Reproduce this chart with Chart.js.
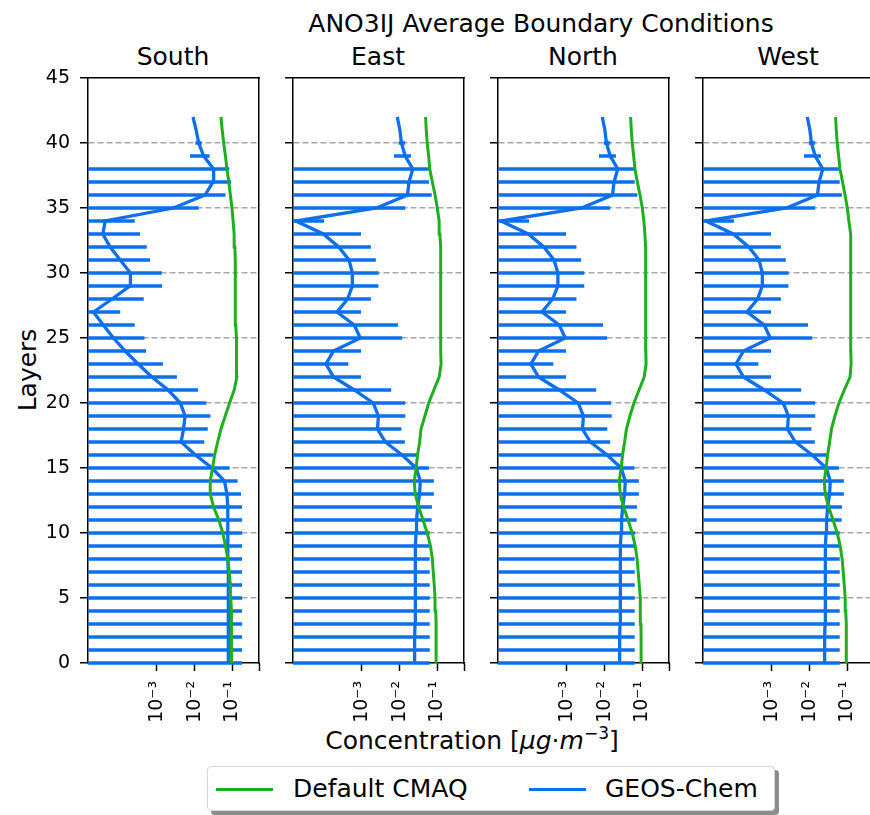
<!DOCTYPE html>
<html>
<head>
<meta charset="utf-8">
<script src="https://cdn.jsdelivr.net/npm/chart.js@4.4.1/dist/chart.umd.min.js"></script>
<style>
  body { margin: 0; background: #fff; font-family: 'DejaVu Sans', sans-serif; }
  #fig { position: relative; width: 870px; height: 815px; overflow: hidden; background: #fff; }
  .panel { position: absolute; top: 64px; }
  .txt { position: absolute; white-space: nowrap; color: #000; font-size: 25px; transform: translate(-50%, -50%); }
  .legend { position: absolute; left: 207px; top: 766px; width: 568px; height: 45px; box-sizing: border-box;
            border: 1px solid #d6d6d6; border-radius: 4px; background: #fff; box-shadow: 4px 4px 0 #8c8c8c; }
  .swatch { position: absolute; top: 21px; height: 3px; width: 57px; }
  .ltxt { position: absolute; top: 7px; font-size: 25px; color: #000; white-space: nowrap; }
  sup { font-size: 17px; vertical-align: 10px; line-height: 0; }
</style>
</head>
<body>
<div id="fig">
  <div class="txt" style="left:541px; top:23px;">ANO3IJ Average Boundary Conditions</div>
  <div class="txt" style="left:173px; top:56px;">South</div>
  <div class="txt" style="left:378px; top:56px;">East</div>
  <div class="txt" style="left:583px; top:56px;">North</div>
  <div class="txt" style="left:788px; top:56px;">West</div>
  <div class="txt" style="left:27px; top:370px; transform: translate(-50%, -50%) rotate(-90deg);">Layers</div>
  <div class="txt" style="left:472px; top:740px;">Concentration [<i>μg</i>·<i>m</i><sup>−3</sup>]</div>
  <div class="legend">
    <div class="swatch" style="left:8px; background:#1fae1f;"></div>
    <div class="ltxt" style="left:85px;">Default CMAQ</div>
    <div class="swatch" style="left:321px; background:#0c6fec;"></div>
    <div class="ltxt" style="left:397px;">GEOS-Chem</div>
  </div>
</div>
<script>
// model layers (y axis)
const layers = [0, 1, 2, 3, 4, 5, 6, 7, 8, 9, 10, 11, 12, 13, 14, 15, 16, 17, 18, 19, 20,
  21, 22, 23, 24, 25, 26, 27, 28, 29, 30, 31, 32, 33, 34, 35, 36, 37, 38, 39, 40, 41, 42];

const xTickValues = [1e-3, 1e-2, 1e-1, 0.51];
const xTickLabels = ['10⁻³', '10⁻²', '10⁻¹', ''];
const yTickStep = 5;
const X_MIN = 1.5e-5;
const X_MAX = 0.51;

// South
const southCmaq = [0.095, 0.095, 0.095, 0.095, 0.095, 0.091, 0.089, 0.083, 0.076, 0.066, 0.056,
  0.044, 0.032, 0.026, 0.026, 0.030, 0.034, 0.041, 0.050, 0.065, 0.085, 0.112, 0.132, 0.132,
  0.129, 0.126, 0.123, 0.120, 0.120, 0.120, 0.120, 0.120, 0.117, 0.112, 0.105, 0.098, 0.089,
  0.081, 0.072, 0.066, 0.059, 0.054, 0.050];
const southGeos = [0.079, 0.079, 0.079, 0.079, 0.078, 0.078, 0.078, 0.078, 0.076, 0.076, 0.076,
  0.076, 0.076, 0.072, 0.062, 0.029, 0.0105, 0.0044, 0.0051, 0.0056, 0.0042, 0.0020, 7.4e-4,
  3.2e-4, 1.45e-4, 7.1e-5, 3.8e-5, 2.1e-5, 6.5e-5, 1.95e-4, 2.0e-4, 1.07e-4, 5.8e-5, 3.7e-5,
  4.3e-5, 0.00275, 0.019, 0.031, 0.032, 0.0174, 0.0129, 0.011, 0.0091];
const southHi = [0.182, 0.182, 0.182, 0.182, 0.182, 0.182, 0.182, 0.182, 0.182, 0.182, 0.182,
  0.182, 0.182, 0.170, 0.138, 0.085, 0.0316, 0.0182, 0.0224, 0.0263, 0.0204, 0.0123, 0.0034,
  0.00145, 5.2e-4, 4.7e-4, 2.6e-4, 1.07e-4, 4.5e-4, 0.00138, 0.00135, 6.6e-4, 5.4e-4, 3.6e-4,
  2.6e-4, 0.0129, 0.066, 0.093, 0.083, 0.025, 0.0155, null, null];
const southLo = [null, null, null, null, null, null, null, null, null, null, null, null, null,
  null, null, null, null, null, null, null, null, null, null, null, null, null, null, null,
  null, null, null, null, null, null, null, null, null, null, null, 0.0076, 0.0105, null, null];

// East
const eastCmaq = [0.093, 0.093, 0.093, 0.093, 0.091, 0.087, 0.083, 0.078, 0.074, 0.066, 0.054,
  0.042, 0.032, 0.026, 0.0245, 0.0275, 0.030, 0.034, 0.037, 0.047, 0.059, 0.081, 0.112, 0.126,
  0.123, 0.123, 0.123, 0.123, 0.123, 0.123, 0.123, 0.123, 0.123, 0.117, 0.112, 0.100, 0.087,
  0.074, 0.063, 0.059, 0.054, 0.051, 0.049];
const eastGeos = [0.0251, 0.0251, 0.0251, 0.0257, 0.0257, 0.0257, 0.0263, 0.0263, 0.0263, 0.0269,
  0.0275, 0.0282, 0.0302, 0.0339, 0.0355, 0.0275, 0.0117, 0.0042, 0.0026, 0.00275, 0.0020, 6.3e-4,
  1.78e-4, 1.12e-4, 1.78e-4, 9.1e-4, 6.3e-4, 2.2e-4, 4.2e-4, 5.6e-4, 5.6e-4, 4.6e-4, 2.45e-4,
  9.5e-5, 1.8e-5, 0.00245, 0.0162, 0.0178, 0.0224, 0.0141, 0.0112, 0.0102, 0.0087];
const eastHi = [0.063, 0.063, 0.063, 0.063, 0.063, 0.063, 0.063, 0.063, 0.063, 0.063, 0.063,
  0.071, 0.072, 0.081, 0.081, 0.060, 0.032, 0.0138, 0.0112, 0.0141, 0.0141, 0.0060, 9.5e-4,
  4.4e-4, 9.5e-4, 0.0117, 0.0091, 9.5e-4, 0.00174, 0.00275, 0.0028, 0.00235, 0.00174, 9.5e-4,
  1.0e-4, 0.0141, 0.071, 0.060, 0.060, 0.020, 0.0141, null, null];
const eastLo = [null, null, null, null, null, null, null, null, null, null, null, null, null,
  null, null, null, null, null, null, null, null, null, null, null, null, null, null, null,
  null, null, null, null, null, null, null, null, null, null, null, 0.0071, 0.0095, null, null];

// North
const northCmaq = [0.093, 0.093, 0.093, 0.092, 0.090, 0.087, 0.083, 0.078, 0.073, 0.065, 0.054,
  0.042, 0.032, 0.026, 0.0245, 0.0275, 0.030, 0.034, 0.038, 0.047, 0.060, 0.082, 0.112, 0.126,
  0.124, 0.123, 0.123, 0.123, 0.123, 0.123, 0.123, 0.123, 0.122, 0.117, 0.110, 0.100, 0.087,
  0.074, 0.064, 0.059, 0.054, 0.051, 0.049];
const northGeos = [0.0251, 0.0251, 0.0251, 0.0257, 0.0257, 0.0257, 0.0263, 0.0263, 0.0263, 0.0269,
  0.0275, 0.0282, 0.0302, 0.0339, 0.0355, 0.0275, 0.0117, 0.0042, 0.0026, 0.00275, 0.0020, 6.3e-4,
  1.78e-4, 1.12e-4, 1.78e-4, 9.1e-4, 6.3e-4, 2.2e-4, 4.2e-4, 5.8e-4, 5.8e-4, 4.6e-4, 2.45e-4,
  9.5e-5, 1.8e-5, 0.00245, 0.0162, 0.0178, 0.0224, 0.0141, 0.0112, 0.0102, 0.0087];
const northHi = [0.063, 0.063, 0.063, 0.063, 0.063, 0.063, 0.063, 0.063, 0.063, 0.063, 0.065,
  0.071, 0.072, 0.081, 0.081, 0.062, 0.032, 0.0141, 0.0118, 0.0155, 0.0148, 0.0060, 9.5e-4,
  4.4e-4, 9.5e-4, 0.0117, 0.0091, 9.5e-4, 0.0018, 0.0029, 0.0029, 0.0024, 0.0018, 9.5e-4,
  1.0e-4, 0.0141, 0.074, 0.063, 0.063, 0.020, 0.0141, null, null];
const northLo = [null, null, null, null, null, null, null, null, null, null, null, null, null,
  null, null, null, null, null, null, null, null, null, null, null, null, null, null, null,
  null, null, null, null, null, null, null, null, null, null, null, 0.0071, 0.0095, null, null];

// West
const westCmaq = [0.095, 0.095, 0.094, 0.093, 0.091, 0.088, 0.083, 0.078, 0.073, 0.065, 0.054,
  0.042, 0.032, 0.026, 0.0245, 0.0275, 0.030, 0.034, 0.038, 0.047, 0.060, 0.083, 0.118, 0.126,
  0.124, 0.124, 0.124, 0.124, 0.124, 0.124, 0.124, 0.123, 0.122, 0.118, 0.110, 0.100, 0.087,
  0.075, 0.064, 0.059, 0.054, 0.051, 0.049];
const westGeos = [0.0251, 0.0251, 0.0251, 0.0257, 0.0257, 0.0257, 0.0263, 0.0263, 0.0263, 0.0269,
  0.0275, 0.0282, 0.0302, 0.0339, 0.0355, 0.0275, 0.0117, 0.0042, 0.0026, 0.00275, 0.0020, 6.3e-4,
  1.78e-4, 1.12e-4, 1.78e-4, 9.1e-4, 6.3e-4, 2.2e-4, 4.2e-4, 5.6e-4, 5.6e-4, 4.6e-4, 2.45e-4,
  9.5e-5, 1.8e-5, 0.00245, 0.0162, 0.0178, 0.0224, 0.0141, 0.0112, 0.0102, 0.0087];
const westHi = [0.063, 0.063, 0.063, 0.063, 0.063, 0.063, 0.063, 0.063, 0.063, 0.063, 0.063,
  0.071, 0.072, 0.081, 0.081, 0.060, 0.032, 0.0138, 0.0112, 0.0141, 0.0141, 0.0060, 9.5e-4,
  4.4e-4, 9.5e-4, 0.0117, 0.0091, 9.5e-4, 0.00174, 0.00275, 0.0028, 0.00235, 0.00174, 9.5e-4,
  1.0e-4, 0.0141, 0.072, 0.063, 0.063, 0.020, 0.0141, null, null];
const westLo = [null, null, null, null, null, null, null, null, null, null, null, null, null,
  null, null, null, null, null, null, null, null, null, null, null, null, null, null, null,
  null, null, null, null, null, null, null, null, null, null, null, 0.0071, 0.0095, null, null];

const GREEN = '#1fae1f';
const BLUE = '#0c6fec';
const FONT = 'DejaVu Sans';

// plot area geometry (px)
const AXIS_W = 60, PAD_TOP = 14, PAD_RIGHT = 12, PLOT_W = 171, PLOT_H = 585, CANVAS_H = 751;

const panels = [
  { left: 88,  showY: true,  cmaq: southCmaq, geos: southGeos, hi: southHi, lo: southLo },
  { left: 293, showY: false, cmaq: eastCmaq,  geos: eastGeos,  hi: eastHi,  lo: eastLo },
  { left: 498, showY: false, cmaq: northCmaq, geos: northGeos, hi: northHi, lo: northLo },
  { left: 703, showY: false, cmaq: westCmaq,  geos: westGeos,  hi: westHi,  lo: westLo }
];

// keep every panel's plot box the same size, whatever the tick labels want
function noPad(s) {
  s.paddingLeft = 0; s.paddingRight = 0; s.paddingTop = 0; s.paddingBottom = 0;
}

function errorBarPoints(p) {
  const pts = [];
  layers.forEach((l, i) => {
    if (p.hi[i] === null) return;
    pts.push({ x: p.lo[i] === null ? X_MIN : p.lo[i], y: l });
    pts.push({ x: p.hi[i], y: l });
    pts.push({ x: p.hi[i], y: null });   // break between bars
  });
  return pts;
}

function makePanel(p) {
  const cv = document.createElement('canvas');
  cv.className = 'panel';
  cv.width = AXIS_W + PLOT_W + PAD_RIGHT;
  cv.height = CANVAS_H;
  cv.style.left = (p.left - AXIS_W) + 'px';
  document.getElementById('fig').appendChild(cv);

  new Chart(cv.getContext('2d'), {
    type: 'line',
    data: {
      datasets: [
        {
          label: 'Default CMAQ',
          data: layers.map((l, i) => ({ x: p.cmaq[i], y: l })),
          borderColor: GREEN, borderWidth: 3, pointRadius: 0, fill: false
        },
        {
          label: 'GEOS-Chem',
          data: layers.map((l, i) => ({ x: p.geos[i], y: l })),
          borderColor: BLUE, borderWidth: 3.3, pointRadius: 0, fill: false
        },
        {
          label: 'GEOS-Chem error',
          data: errorBarPoints(p),
          borderColor: BLUE, borderWidth: 3.3, pointRadius: 0, fill: false,
          spanGaps: false, clip: { left: 0, right: 0, top: 3, bottom: 3 }
        }
      ]
    },
    options: {
      responsive: false,
      animation: false,
      devicePixelRatio: 1,
      events: [],
      layout: { padding: { top: PAD_TOP, right: PAD_RIGHT, left: 0, bottom: 0 } },
      plugins: { legend: { display: false }, tooltip: { enabled: false } },
      scales: {
        x: {
          type: 'logarithmic', position: 'bottom', min: X_MIN, max: X_MAX,
          afterBuildTicks: s => { s.ticks = xTickValues.map(v => ({ value: v })); },
          afterFit: s => { s.height = CANVAS_H - PAD_TOP - PLOT_H; noPad(s); },
          ticks: {
            autoSkip: false, minRotation: 90, maxRotation: 90, padding: 10, color: '#000',
            font: { family: FONT, size: 19 },
            callback: (v, i) => xTickLabels[i]
          },
          grid: { drawOnChartArea: false, tickColor: '#000', tickLength: 8, tickWidth: 1.5 },
          border: { color: '#000', width: 1.5 }
        },
        xTop: {
          type: 'linear', position: 'top', display: true,
          afterFit: s => { s.height = 0; noPad(s); },
          ticks: { display: false }, grid: { display: false },
          border: { color: '#000', width: 1.5 }
        },
        y: {
          type: 'linear', position: 'left', min: 0, max: 45,
          afterFit: s => { s.width = AXIS_W; noPad(s); },
          ticks: {
            stepSize: yTickStep, display: p.showY, padding: 10, color: '#000',
            font: { family: FONT, size: 19 }
          },
          grid: {
            color: c => (c.tick && (c.tick.value === 0 || c.tick.value === 45)) ? 'rgba(0,0,0,0)' : '#a8a8a8',
            lineWidth: 1.5, tickColor: '#000', tickLength: 8, tickWidth: 1.5
          },
          border: { color: '#000', width: 1.5, dash: [6, 3] }
        },
        yRight: {
          type: 'linear', position: 'right', display: true,
          afterFit: s => { s.width = 0; noPad(s); },
          ticks: { display: false }, grid: { display: false },
          border: { color: '#000', width: 1.5 }
        }
      }
    }
  });
}

panels.forEach(makePanel);
</script>
</body>
</html>
